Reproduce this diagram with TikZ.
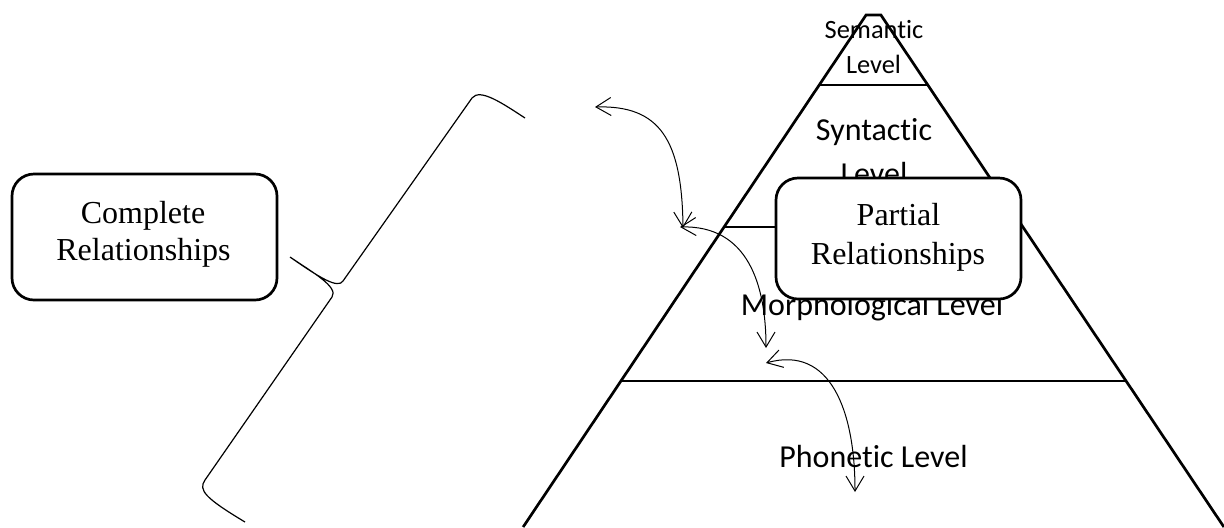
\documentclass[tikz,border=0pt]{standalone}
\usepackage{fontspec}
\setmainfont{Liberation Serif}
\newfontfamily\calibri[Ligatures=CommonOff]{Carlito}
\usetikzlibrary{arrows.meta}
\begin{document}
\begin{tikzpicture}[x=0.5pt,y=-0.5pt,
  pyr/.style={line width=1.35pt},
  lvl/.style={font=\calibri\fontsize{16}{19}\selectfont, anchor=base, inner sep=0pt},
  lvlsmall/.style={font=\calibri\fontsize{13.2}{16}\selectfont, anchor=base, inner sep=0pt},
  relbox/.style={draw, line width=1.35pt, rounded corners=11pt, fill=white, inner sep=0pt},
  boxtext/.style={font=\fontsize{16}{18}\selectfont, anchor=base, inner sep=0pt},
  conn/.style={line width=0.5pt, {Straight Barb[length=7.5pt,width=9pt]}-{Straight Barb[length=7.5pt,width=9pt]}},
  bracestyle/.style={line width=0.6pt}]
\useasboundingbox (0,0) rectangle (1224,527);
% pyramid
\coordinate (bl) at (523.1,527);
\coordinate (tl) at (866.1,15);
\coordinate (tr) at (880.9,15);
\coordinate (br) at (1223.9,527);
\draw[pyr] (bl) -- (tl) -- (tr) -- (br);
\coordinate (s1) at (819.2,85);  \coordinate (s2) at (927.8,85);
\coordinate (m1) at (724.1,227); \coordinate (m2) at (1022.9,227);
\coordinate (p1) at (620.9,381); \coordinate (p2) at (1126.1,381);
\draw[pyr] (s1) -- (s2);
\draw[pyr] (m1) -- (m2);
\draw[pyr] (p1) -- (p2);
% level labels
\node[lvlsmall] (sem1) at (874,38) {Semantic};
\node[lvlsmall] (sem2) at (873.5,73) {Level};
\node[lvl] (syn1) at (874,140) {Syntactic};
\node[lvl] (syn2) at (874,184) {Level};
\node[lvl] (mor) at (872,315) {Morphological Level};
\node[lvl] (pho) at (873.5,467) {Phonetic Level};
% boxes
\node[relbox, minimum width=132.5pt, minimum height=63pt] (completebox) at (144.5,237) {};
\node[boxtext] (c1) at (143,223.5) {Complete};
\node[boxtext] (c2) at (143.5,260) {Relationships};
\node[relbox, minimum width=122.5pt, minimum height=60.5pt] (partialbox) at (898.5,238.5) {};
\node[boxtext] (q1) at (898.5,225) {Partial};
\node[boxtext] (q2) at (898,264) {Relationships};
% arrows
\coordinate (a1s) at (595,107);
\coordinate (a1e) at (683,228);
\coordinate (a2s) at (680,227);
\coordinate (a2e) at (766,348);
\coordinate (a3s) at (766,363);
\coordinate (a3e) at (855,492);
\draw[conn] (a1s) .. controls (660,105) and (682,140) .. (a1e);
\draw[conn] (a2s) .. controls (748,225) and (766,285) .. (a2e);
\draw[conn] (a3s) .. controls (830,345) and (855,410) .. (a3e);
% brace
\coordinate (b1) at (525,118);
\coordinate (b2) at (472,98);
\coordinate (b3) at (343,281);
\coordinate (btip) at (290,257);
\coordinate (b4) at (332,297);
\coordinate (b5) at (205,480);
\coordinate (b6) at (245,522);
\draw[bracestyle] (b1) .. controls (502,103) and (480,88) .. (b2) -- (b3)
  .. controls (338,289) and (320,278) .. (btip)
  .. controls (312,272) and (339,287) .. (b4) -- (b5)
  .. controls (198,490) and (205,498) .. (b6);
\end{tikzpicture}
\end{document}
